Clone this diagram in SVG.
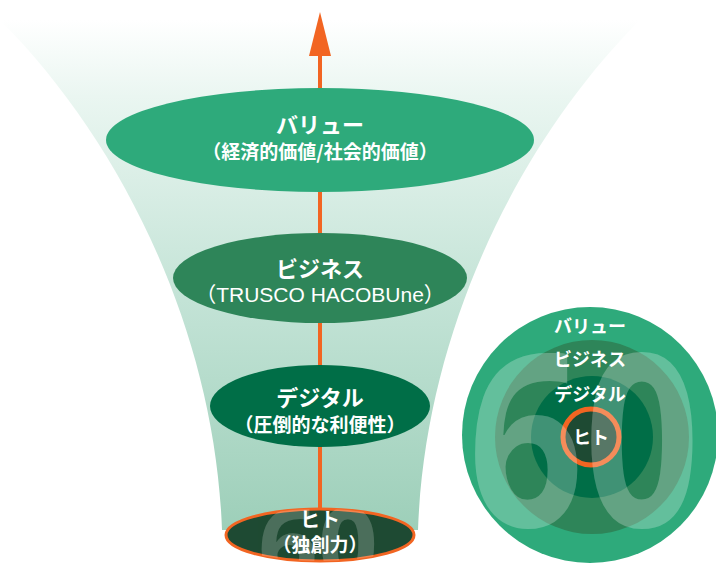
<svg xmlns="http://www.w3.org/2000/svg" width="716" height="563" viewBox="0 0 716 563">
<defs>
<linearGradient id="funnel" x1="0" y1="20" x2="0" y2="530" gradientUnits="userSpaceOnUse">
<stop offset="0" stop-color="#ffffff"/>
<stop offset="0.15" stop-color="#eaf6f1"/>
<stop offset="0.55" stop-color="#c3e3d6"/>
<stop offset="1" stop-color="#9dcfb9"/>
</linearGradient>
<clipPath id="hitoClip"><ellipse cx="320" cy="535" rx="94" ry="26"/></clipPath>
<style>
.t{font-family:"Noto Sans CJK JP","Noto Sans",sans-serif;font-weight:700;fill:#fff;text-anchor:middle}
.s{font-family:"Noto Sans CJK JP","Noto Sans",sans-serif;font-weight:700;fill:#fff;text-anchor:middle;font-size:19px}
.lat{font-family:"Liberation Sans","Noto Sans CJK JP",sans-serif;font-weight:400;fill:#fff;text-anchor:middle;font-size:21px}
.num{font-family:"Noto Sans","DejaVu Sans",sans-serif;font-weight:700;fill:#fff}
</style>
</defs>
<rect width="716" height="563" fill="#ffffff"/>
<path d="M0,20 C120,140 215,330 222,530 L418,530 C425,330 520,140 640,20 Z" fill="url(#funnel)"/>
<g id="connectors">
<line x1="320" y1="54" x2="320" y2="512" stroke="#f26522" stroke-width="4"/>
<polygon points="320,12 309,56 331,56" fill="#f26522"/>
</g>
<g id="value">
<ellipse cx="320" cy="140" rx="214" ry="52" fill="#2eaa7b"/>
<text class="t" x="320" y="133" font-size="22">バリュー</text>
<text class="s" x="320" y="159">（経済的価値/社会的価値）</text>
</g>
<g id="business">
<ellipse cx="320" cy="278" rx="147" ry="45" fill="#2e8559"/>
<text class="t" x="320" y="277" font-size="22">ビジネス</text>
<text class="lat" x="320" y="302">（TRUSCO HACOBUne）</text>
</g>
<g id="digital">
<ellipse cx="320" cy="406" rx="110" ry="41" fill="#006e47"/>
<text class="t" x="320" y="406" font-size="22">デジタル</text>
<text class="s" x="320" y="432">（圧倒的な利便性）</text>
</g>
<g id="hito">
<ellipse cx="320" cy="535" rx="94" ry="26" fill="#1e4a33" stroke="#f26522" stroke-width="3"/>
<g clip-path="url(#hitoClip)">
<text class="num" x="258" y="580" font-size="100" opacity="0.2" textLength="120" lengthAdjust="spacingAndGlyphs">60</text>
</g>
<text class="t" x="320" y="527" font-size="20">ヒト</text>
<text class="s" x="320" y="552">（独創力）</text>
</g>
<g id="circle-diagram">
<circle cx="590" cy="435" r="128" fill="#2eaa7b"/>
<circle cx="592" cy="437" r="97" fill="#2e8559"/>
<circle cx="592" cy="437" r="61" fill="#006e47"/>
<circle cx="591" cy="437" r="28" fill="#1e4a33" stroke="#f26522" stroke-width="5"/>
<text class="num" x="468" y="527" font-size="240" opacity="0.25" textLength="232" lengthAdjust="spacingAndGlyphs">60</text>
<text class="t" x="590" y="333" font-size="18">バリュー</text>
<text class="t" x="590" y="366" font-size="18">ビジネス</text>
<text class="t" x="590" y="401" font-size="18">デジタル</text>
<text class="t" x="591" y="444" font-size="18">ヒト</text>
</g>
</svg>
